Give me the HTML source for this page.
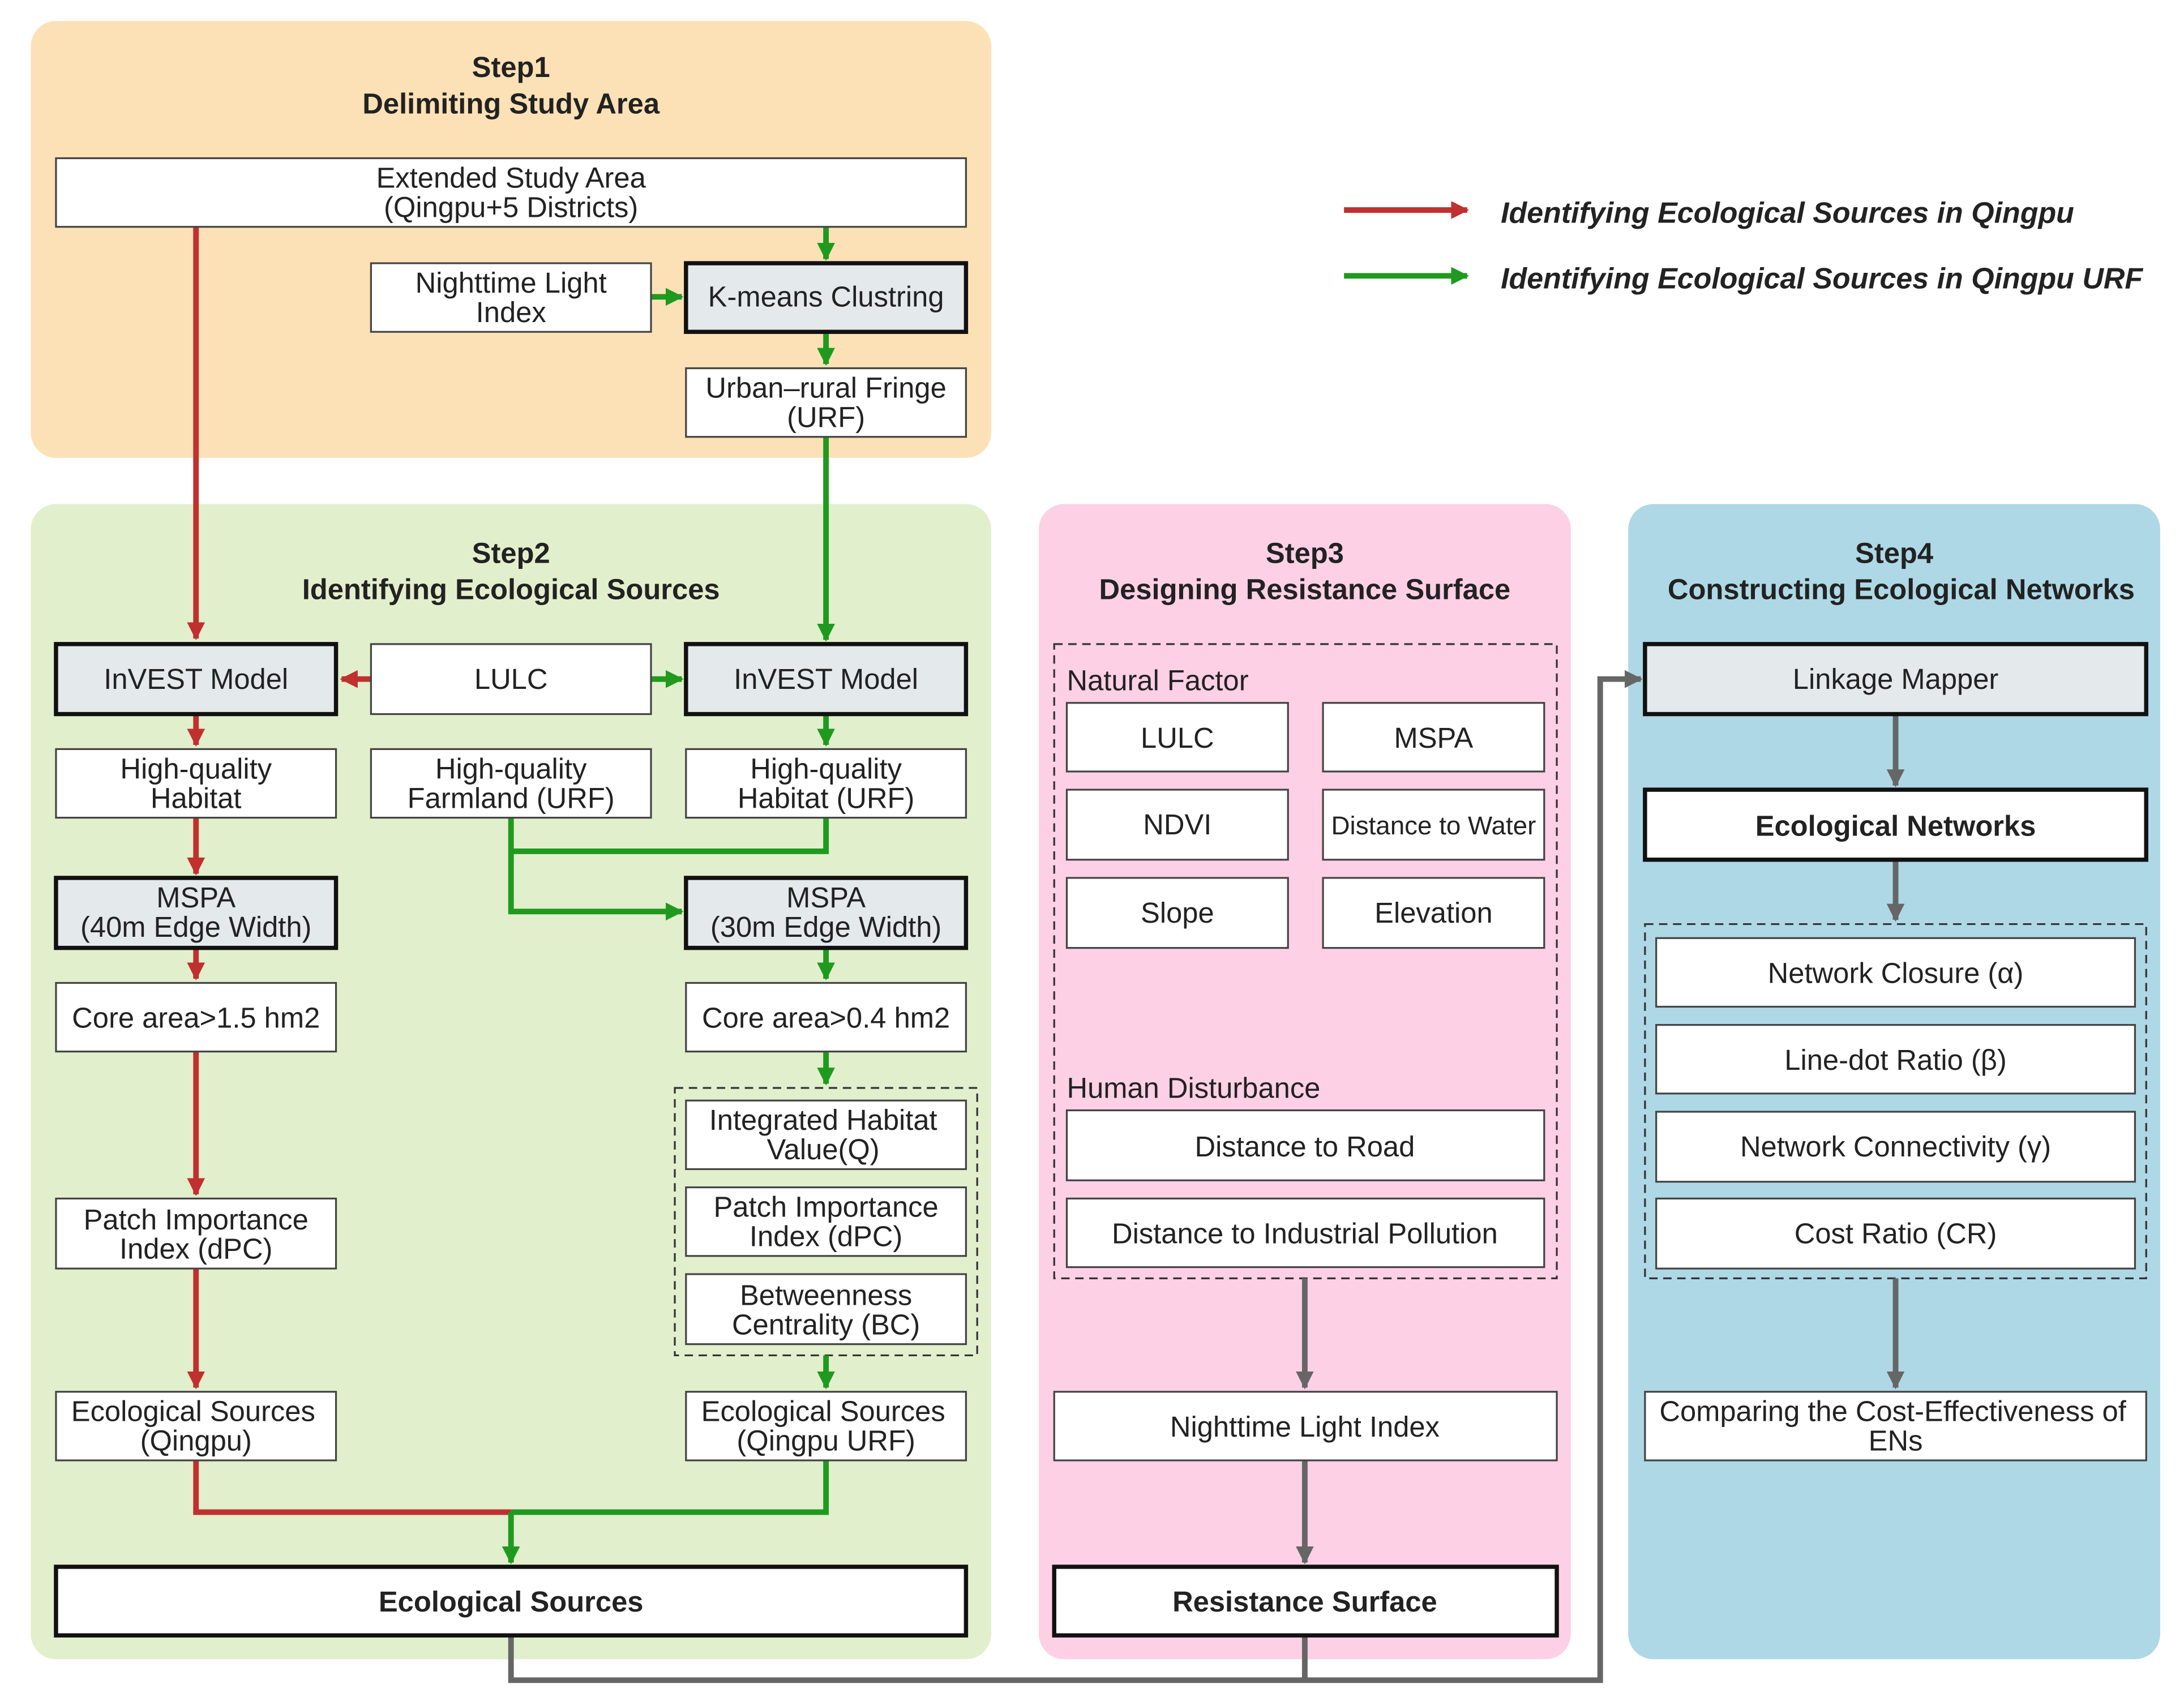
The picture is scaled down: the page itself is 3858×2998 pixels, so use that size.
<!DOCTYPE html>
<html><head><meta charset="utf-8"><style>
html,body{margin:0;padding:0;background:#fff;}
svg{display:block;}
text{font-family:"Liberation Sans",sans-serif;fill:#222;}
</style></head><body>
<svg width="3858" height="2998" viewBox="0 0 1560 1212" preserveAspectRatio="none" xmlns="http://www.w3.org/2000/svg">
<defs>
<marker id="ar" viewBox="0 0 10 10" refX="9" refY="5" markerWidth="3.2" markerHeight="3.2" orient="auto"><path d="M0,0 L10,5 L0,10 z" fill="#c0302f"/></marker>
<marker id="ag" viewBox="0 0 10 10" refX="9" refY="5" markerWidth="3.2" markerHeight="3.2" orient="auto"><path d="M0,0 L10,5 L0,10 z" fill="#1f9a1f"/></marker>
<marker id="ak" viewBox="0 0 10 10" refX="9" refY="5" markerWidth="3.2" markerHeight="3.2" orient="auto"><path d="M0,0 L10,5 L0,10 z" fill="#666"/></marker>
</defs>
<rect width="1560" height="1212" fill="#fff"/>
<rect x="22" y="15" width="686" height="312" rx="18" fill="#fde1b6"/>
<rect x="22" y="360" width="686" height="825" rx="18" fill="#e2efcc"/>
<rect x="742" y="360" width="380" height="825" rx="18" fill="#fdd0e5"/>
<rect x="1163" y="360" width="380" height="825" rx="18" fill="#aed8e5"/>
<g font-weight="bold" font-size="20.5" text-anchor="middle">
<text x="365" y="55">Step1</text><text x="365" y="81">Delimiting Study Area</text>
<text x="365" y="402">Step2</text><text x="365" y="428">Identifying Ecological Sources</text>
<text x="932" y="402">Step3</text><text x="932" y="428">Designing Resistance Surface</text>
<text x="1353" y="402">Step4</text><text x="1358" y="428">Constructing Ecological Networks</text>
</g>
<line x1="960" y1="150" x2="1048" y2="150" stroke="#c0302f" stroke-width="4" marker-end="url(#ar)"/>
<line x1="960" y1="197" x2="1048" y2="197" stroke="#1f9a1f" stroke-width="4" marker-end="url(#ag)"/>
<g font-style="italic" font-weight="bold" font-size="21" fill="#111">
<text x="1072" y="159">Identifying Ecological Sources in Qingpu</text>
<text x="1072" y="206">Identifying Ecological Sources in Qingpu URF</text>
</g>
<g fill="none" stroke="#333" stroke-width="1.3" stroke-dasharray="6,4">
<rect x="482" y="777" width="216" height="191"/>
<rect x="753" y="460" width="359" height="453"/>
<rect x="1175" y="660" width="358" height="253"/>
</g>
<g fill="none" stroke-width="4">
<g stroke="#c0302f">
<path d="M140 162 V456" marker-end="url(#ar)"/>
<path d="M265 485 H244" marker-end="url(#ar)"/>
<path d="M140 510 V532" marker-end="url(#ar)"/>
<path d="M140 584 V624" marker-end="url(#ar)"/>
<path d="M140 677 V699" marker-end="url(#ar)"/>
<path d="M140 751 V853" marker-end="url(#ar)"/>
<path d="M140 906 V991" marker-end="url(#ar)"/>
<path d="M140 1043 V1080 H365"/>
</g>
<g stroke="#1f9a1f">
<path d="M590 162 V185" marker-end="url(#ag)"/>
<path d="M465 212 H487" marker-end="url(#ag)"/>
<path d="M590 237 V260" marker-end="url(#ag)"/>
<path d="M590 312 V457" marker-end="url(#ag)"/>
<path d="M465 485 H487" marker-end="url(#ag)"/>
<path d="M590 510 V532" marker-end="url(#ag)"/>
<path d="M590 584 V608 H365"/>
<path d="M365 584 V651 H487" marker-end="url(#ag)"/>
<path d="M590 677 V699" marker-end="url(#ag)"/>
<path d="M590 751 V774" marker-end="url(#ag)"/>
<path d="M590 968 V991" marker-end="url(#ag)"/>
<path d="M590 1043 V1080 H365"/>
<path d="M365 1080 V1116" marker-end="url(#ag)"/>
</g>
<g stroke="#666">
<path d="M932 913 V991" marker-end="url(#ak)"/>
<path d="M932 1043 V1116" marker-end="url(#ak)"/>
<path d="M365 1168 V1200 H1143 V485 H1172" marker-end="url(#ak)"/>
<path d="M932 1168 V1200"/>
<path d="M1354 510 V561" marker-end="url(#ak)"/>
<path d="M1354 614 V657" marker-end="url(#ak)"/>
<path d="M1354 913 V991" marker-end="url(#ak)"/>
</g>
</g>
<g stroke="#444" stroke-width="1.3" fill="#fff">
<rect x="40" y="113" width="650" height="49"/>
<rect x="265" y="188" width="200" height="49"/>
<rect x="490" y="263" width="200" height="49"/>
<rect x="265" y="460" width="200" height="50"/>
<rect x="40" y="535" width="200" height="49"/>
<rect x="265" y="535" width="200" height="49"/>
<rect x="490" y="535" width="200" height="49"/>
<rect x="40" y="702" width="200" height="49"/>
<rect x="490" y="702" width="200" height="49"/>
<rect x="490" y="786" width="200" height="49"/>
<rect x="490" y="848" width="200" height="49"/>
<rect x="490" y="910" width="200" height="50"/>
<rect x="40" y="856" width="200" height="50"/>
<rect x="40" y="994" width="200" height="49"/>
<rect x="490" y="994" width="200" height="49"/>
<rect x="762" y="502" width="158" height="49"/>
<rect x="945" y="502" width="158" height="49"/>
<rect x="762" y="564" width="158" height="50"/>
<rect x="945" y="564" width="158" height="50"/>
<rect x="762" y="627" width="158" height="50"/>
<rect x="945" y="627" width="158" height="50"/>
<rect x="762" y="793" width="341" height="50"/>
<rect x="762" y="856" width="341" height="49"/>
<rect x="753" y="994" width="359" height="49"/>
<rect x="1183" y="670" width="342" height="49"/>
<rect x="1183" y="732" width="342" height="49"/>
<rect x="1183" y="794" width="342" height="50"/>
<rect x="1183" y="856" width="342" height="50"/>
<rect x="1175" y="994" width="358" height="49"/>
</g>
<g stroke="#111" stroke-width="3">
<rect x="490" y="188" width="200" height="49" fill="#e4e9ec"/>
<rect x="40" y="460" width="200" height="50" fill="#e4e9ec"/>
<rect x="490" y="460" width="200" height="50" fill="#e4e9ec"/>
<rect x="40" y="627" width="200" height="50" fill="#e4e9ec"/>
<rect x="490" y="627" width="200" height="50" fill="#e4e9ec"/>
<rect x="40" y="1119" width="650" height="49" fill="#fff"/>
<rect x="753" y="1119" width="359" height="49" fill="#fff"/>
<rect x="1175" y="460" width="358" height="50" fill="#e4e9ec"/>
<rect x="1175" y="564" width="358" height="50" fill="#fff"/>
</g>
<g font-size="20.5" text-anchor="middle">
<text x="365" y="134">Extended Study Area</text><text x="365" y="155">(Qingpu+5 Districts)</text>
<text x="365" y="209">Nighttime Light</text><text x="365" y="230">Index</text>
<text x="590" y="219">K-means Clustring</text>
<text x="590" y="284">Urban–rural Fringe</text><text x="590" y="305">(URF)</text>
<text x="140" y="492">InVEST Model</text>
<text x="365" y="492">LULC</text>
<text x="590" y="492">InVEST Model</text>
<text x="140" y="556">High-quality</text><text x="140" y="577">Habitat</text>
<text x="365" y="556">High-quality</text><text x="365" y="577">Farmland (URF)</text>
<text x="590" y="556">High-quality</text><text x="590" y="577">Habitat (URF)</text>
<text x="140" y="648">MSPA</text><text x="140" y="669">(40m Edge Width)</text>
<text x="590" y="648">MSPA</text><text x="590" y="669">(30m Edge Width)</text>
<text x="140" y="734">Core area&gt;1.5 hm2</text>
<text x="590" y="734">Core area&gt;0.4 hm2</text>
<text x="588" y="807">Integrated Habitat</text><text x="588" y="828">Value(Q)</text>
<text x="590" y="869">Patch Importance</text><text x="590" y="890">Index (dPC)</text>
<text x="590" y="932">Betweenness</text><text x="590" y="953">Centrality (BC)</text>
<text x="140" y="878">Patch Importance</text><text x="140" y="899">Index (dPC)</text>
<text x="138" y="1015">Ecological Sources</text><text x="140" y="1036">(Qingpu)</text>
<text x="588" y="1015">Ecological Sources</text><text x="590" y="1036">(Qingpu URF)</text>
<text x="365" y="1151" font-weight="bold">Ecological Sources</text>
<text x="841" y="534">LULC</text>
<text x="1024" y="534">MSPA</text>
<text x="841" y="596">NDVI</text>
<text x="1024" y="596" font-size="18.5">Distance to Water</text>
<text x="841" y="659">Slope</text>
<text x="1024" y="659">Elevation</text>
<text x="932" y="826">Distance to Road</text>
<text x="932" y="888">Distance to Industrial Pollution</text>
<text x="932" y="1026">Nighttime Light Index</text>
<text x="932" y="1151" font-weight="bold">Resistance Surface</text>
<text x="1354" y="492">Linkage Mapper</text>
<text x="1354" y="597" font-weight="bold">Ecological Networks</text>
<text x="1354" y="702">Network Closure (α)</text>
<text x="1354" y="764">Line-dot Ratio (β)</text>
<text x="1354" y="826">Network Connectivity (γ)</text>
<text x="1354" y="888">Cost Ratio (CR)</text>
<text x="1352" y="1015">Comparing the Cost-Effectiveness of</text><text x="1354" y="1036">ENs</text>
</g>
<g font-size="20.5">
<text x="762" y="493">Natural Factor</text>
<text x="762" y="784">Human Disturbance</text>
</g>
</svg>
</body></html>
